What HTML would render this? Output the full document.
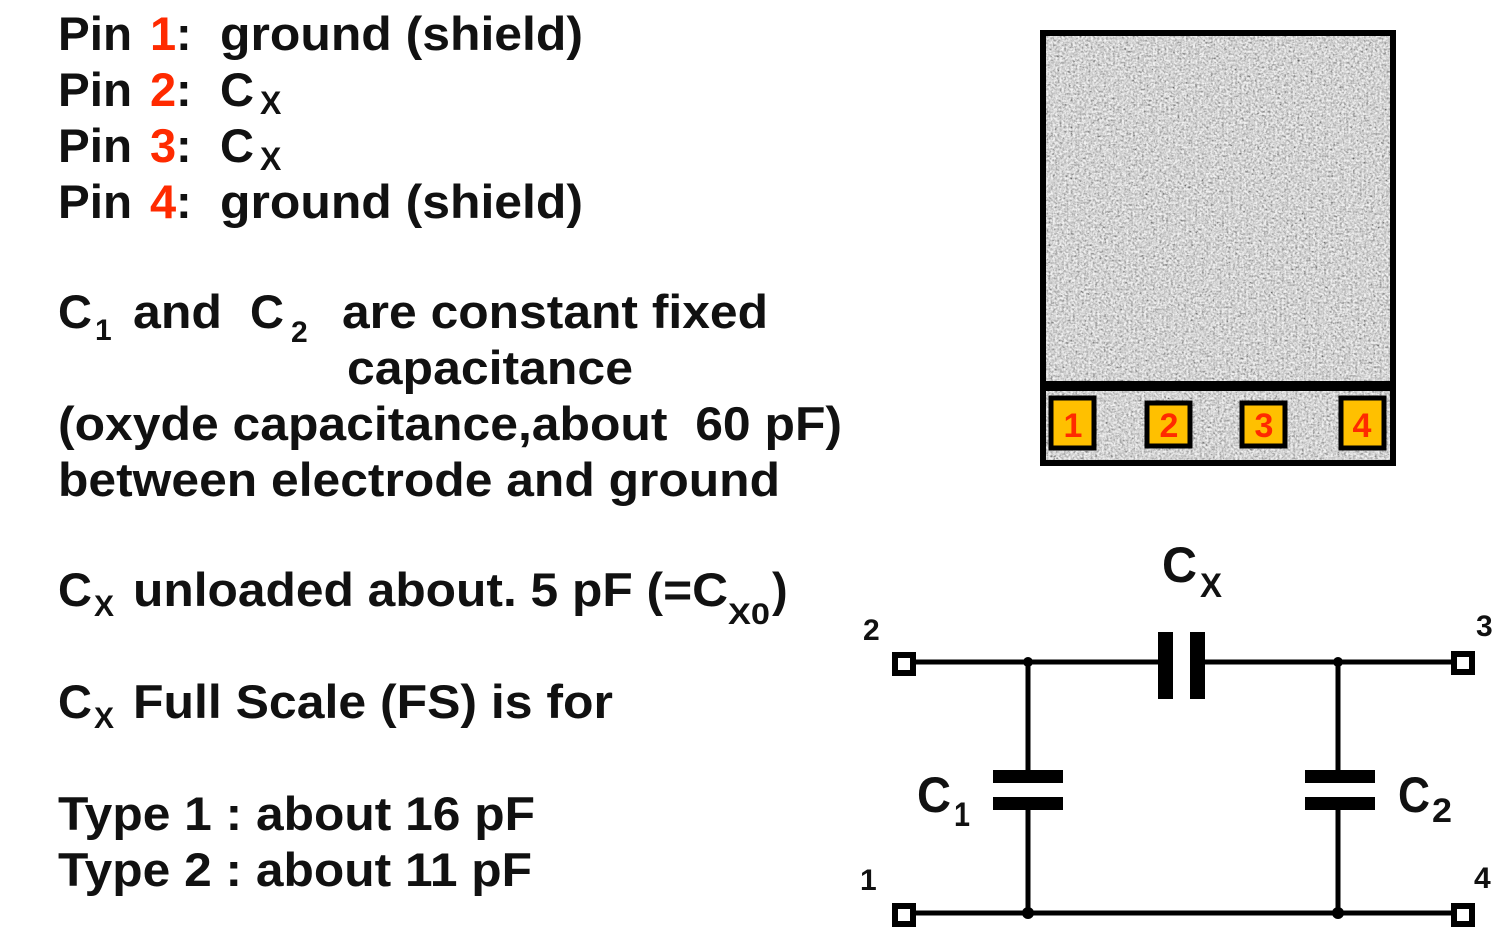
<!DOCTYPE html>
<html><head><meta charset="utf-8"><style>
html,body{margin:0;padding:0;background:#fff;}
svg{display:block;}
text{font-family:"Liberation Sans",Arial,sans-serif;font-weight:bold;fill:#111;white-space:pre;}
.r{fill:#ff2a00;}
</style></head><body>
<svg width="1500" height="945" viewBox="0 0 1500 945" xmlns="http://www.w3.org/2000/svg">
<defs>
<filter id="noise" x="0" y="0" width="100%" height="100%">
<feTurbulence type="fractalNoise" baseFrequency="0.45" numOctaves="3" seed="3" result="n"/>
<feColorMatrix type="matrix" values="0.8 0.8 0.8 0 -0.5 0.8 0.8 0.8 0 -0.5 0.8 0.8 0.8 0 -0.5 0 0 0 0 1"/>
</filter>
</defs>
<g font-size="47">
<text x="58" y="50" textLength="74" lengthAdjust="spacingAndGlyphs">Pin</text>
<text x="150" y="50" class="r">1</text><text x="176" y="50">:</text>
<text x="220" y="50" textLength="363" lengthAdjust="spacingAndGlyphs">ground (shield)</text>

<text x="58" y="106" textLength="74" lengthAdjust="spacingAndGlyphs">Pin</text>
<text x="150" y="106" class="r">2</text><text x="176" y="106">:</text>
<text x="220" y="106">C</text><text x="260" y="114" font-size="32">X</text>

<text x="58" y="162" textLength="74" lengthAdjust="spacingAndGlyphs">Pin</text>
<text x="150" y="162" class="r">3</text><text x="176" y="162">:</text>
<text x="220" y="162">C</text><text x="260" y="170" font-size="32">X</text>

<text x="58" y="218" textLength="74" lengthAdjust="spacingAndGlyphs">Pin</text>
<text x="150" y="218" class="r">4</text><text x="176" y="218">:</text>
<text x="220" y="218" textLength="363" lengthAdjust="spacingAndGlyphs">ground (shield)</text>

<text x="58" y="328">C</text><text x="95" y="340" font-size="30">1</text>
<text x="133" y="328" textLength="89" lengthAdjust="spacingAndGlyphs">and</text>
<text x="250" y="328">C</text><text x="291" y="342" font-size="30">2</text>
<text x="342" y="328" textLength="426" lengthAdjust="spacingAndGlyphs">are constant fixed</text>
<text x="347" y="384" textLength="286" lengthAdjust="spacingAndGlyphs">capacitance</text>
<text x="58" y="440" textLength="784" lengthAdjust="spacingAndGlyphs">(oxyde capacitance,about  60 pF)</text>
<text x="58" y="496" textLength="722" lengthAdjust="spacingAndGlyphs">between electrode and ground</text>

<text x="58" y="606">C</text><text x="94" y="616" font-size="30">X</text>
<text x="133" y="606" textLength="595" lengthAdjust="spacingAndGlyphs">unloaded about. 5 pF (=C</text>
<text x="728" y="624" font-size="30" textLength="42" lengthAdjust="spacingAndGlyphs">X0</text>
<text x="772" y="606">)</text>

<text x="58" y="718">C</text><text x="94" y="728" font-size="30">X</text>
<text x="133" y="718" textLength="480" lengthAdjust="spacingAndGlyphs">Full Scale (FS) is for</text>

<text x="58" y="830" textLength="477" lengthAdjust="spacingAndGlyphs">Type 1 : about 16 pF</text>
<text x="58" y="886" textLength="474" lengthAdjust="spacingAndGlyphs">Type 2 : about 11 pF</text>
</g>
<!-- sensor -->
<rect x="1043" y="33" width="350" height="430" fill="#aaa"/>
<rect x="1043" y="33" width="350" height="430" filter="url(#noise)" opacity="0.85"/>
<rect x="1043" y="33" width="350" height="430" fill="none" stroke="#000" stroke-width="6"/>
<rect x="1043" y="381" width="350" height="10" fill="#000"/>
<g stroke="#000" stroke-width="5" fill="#ffc000">
<rect x="1051" y="398" width="43" height="50"/>
<rect x="1147" y="403" width="43" height="43"/>
<rect x="1242" y="403" width="43" height="43"/>
<rect x="1341" y="398" width="43" height="50"/>
</g>
<g font-size="34" text-anchor="middle">
<text class="r" x="1073" y="437">1</text>
<text class="r" x="1169" y="437">2</text>
<text class="r" x="1264" y="437">3</text>
<text class="r" x="1362" y="437">4</text>
</g>
<!-- circuit -->
<g stroke="#000" stroke-width="5" fill="none">
<line x1="912" y1="662" x2="1163" y2="662"/>
<line x1="1198" y1="662" x2="1453" y2="662"/>
<line x1="912" y1="913" x2="1453" y2="913"/>
<line x1="1028" y1="662" x2="1028" y2="770"/>
<line x1="1028" y1="810" x2="1028" y2="913"/>
<line x1="1338" y1="662" x2="1338" y2="770"/>
<line x1="1338" y1="810" x2="1338" y2="913"/>
<rect x="895" y="655" width="18" height="18" stroke-width="6" fill="#fff"/>
<rect x="1454" y="654" width="18" height="18" stroke-width="6" fill="#fff"/>
<rect x="895" y="906" width="18" height="18" stroke-width="6" fill="#fff"/>
<rect x="1454" y="906" width="18" height="18" stroke-width="6" fill="#fff"/>
</g>
<g fill="#000">
<rect x="1158" y="632" width="15" height="67"/>
<rect x="1190" y="632" width="15" height="67"/>
<rect x="993" y="770" width="70" height="13"/>
<rect x="993" y="797" width="70" height="13"/>
<rect x="1305" y="770" width="70" height="13"/>
<rect x="1305" y="797" width="70" height="13"/>
<circle cx="1028" cy="662" r="5"/><circle cx="1338" cy="662" r="5"/>
<circle cx="1028" cy="913" r="6"/><circle cx="1338" cy="913" r="6"/>
</g>
<text x="1162" y="582" font-size="50" textLength="35" lengthAdjust="spacingAndGlyphs">C</text>
<text x="1200" y="597" font-size="34" textLength="22" lengthAdjust="spacingAndGlyphs">X</text>
<text x="917" y="812" font-size="50" textLength="34" lengthAdjust="spacingAndGlyphs">C</text>
<text x="954" y="826" font-size="34" textLength="16" lengthAdjust="spacingAndGlyphs">1</text>
<text x="1398" y="812" font-size="50" textLength="32" lengthAdjust="spacingAndGlyphs">C</text>
<text x="1432" y="822" font-size="34" textLength="20" lengthAdjust="spacingAndGlyphs">2</text>
<text x="863" y="640" font-size="30">2</text>
<text x="1476" y="636" font-size="30">3</text>
<text x="860" y="890" font-size="30">1</text>
<text x="1474" y="888" font-size="30">4</text>
</svg>
</body></html>
